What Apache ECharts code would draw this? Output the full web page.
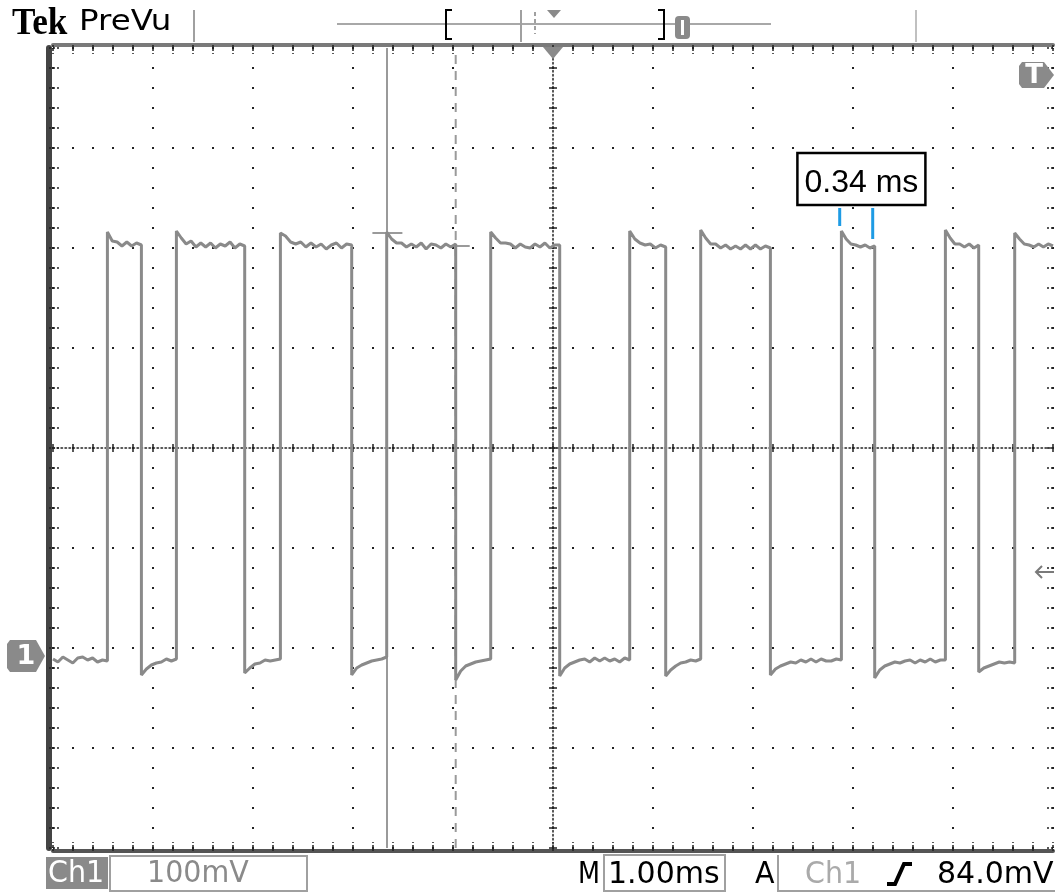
<!DOCTYPE html>
<html><head><meta charset="utf-8">
<script src="https://cdn.jsdelivr.net/npm/echarts@6/dist/echarts.min.js"></script>
<style>html,body{margin:0;padding:0;background:#fff}#c{width:1055px;height:892px}</style>
</head><body><div id="c"></div>
<script>
// ---- axes (screen graticule: 10 div x 1.00 ms, 8 div x 100 mV) ----
const X_MIN_MS = 0, X_MAX_MS = 10, X_DIV_MS = 1;
const Y_MIN_MV = -400, Y_MAX_MV = 400, Y_DIV_MV = 100;
const GROUND_MV = -208;          // Ch1 ground marker position (screen mV from centre)
const TRIGGER_LEVEL_MV = 84;     // relative to ground
const TRIGGER_TIME_MS = 5;

// ---- waveform: segment boundaries (ms) and sampled levels (mV re ground) ----
const EDGE_TIMES_MS = [0, 0.544, 0.884, 1.234, 1.917, 2.274, 2.987, 3.337, 4.027, 4.377, 5.067,
  5.767, 6.127, 6.477, 7.174, 7.884, 8.217, 8.924, 9.257, 9.617, 10];
const SEGMENT_VALUES_MV = [
  [-3, -6, -1, -4, -7, -2, -1, -4, -2, -6, -4, -5],
  [424, 415, 414, 410, 414, 410, 413, 411],
  [-19, -13, -9, -7, -6, -3, -5, -3],
  [425, 418, 412, 415, 409, 413, 409, 413, 408, 412, 410, 414, 408, 412, 410],
  [-17, -12, -8, -7, -4, -5, -4, -3],
  [423, 420, 414, 412, 414, 409, 413, 409, 412, 407, 411, 413, 408, 412, 411],
  [-19, -12, -9, -7, -5, -4, -3, -1],
  [424, 417, 413, 413, 409, 412, 409, 413, 407, 412, 411, 408, 412, 409, 412],
  [-24, -15, -10, -8, -6, -5, -4, -3],
  [424, 418, 413, 413, 412, 408, 412, 409, 408, 412, 409, 413, 408, 411, 411],
  [-20, -12, -8, -6, -4, -3, -6, -2, -5, -2, -5, -3, -6, -2, -4],
  [425, 417, 413, 411, 412, 408, 411, 409],
  [-20, -14, -10, -7, -6, -4, -5, -3],
  [426, 418, 412, 412, 408, 411, 407, 410, 407, 411, 407, 411, 407, 410, 408],
  [-19, -13, -10, -8, -6, -7, -4, -6, -3, -6, -3, -5, -5, -3, -4],
  [425, 417, 412, 411, 409, 411, 408, 410],
  [-22, -14, -10, -8, -6, -7, -5, -4, -7, -4, -6, -3, -6, -4, -4],
  [426, 418, 412, 412, 409, 412, 408, 411],
  [-16, -12, -10, -8, -6, -7, -6, -7],
  [423, 417, 412, 411, 409, 412, 409, 412, 410]
];

// ---- cursors ----
const CURSOR_SOLID_MS = 3.34;
const CURSOR_SOLID_TICK = [3.194, 3.494, 423];   // from, to, level (mV re ground)
const CURSOR_DASHED_MS = 4.027;
const CURSOR_DASHED_TICK = [4.027, 4.167, 410];

// ---- measurement annotation ----
const MEASURE_TICKS = [[7.867, 430, 448], [8.197, 417, 448]];  // time, from, to (mV re ground)
const MEASURE_TEXT = '0.34 ms';
const MEASURE_POS = [8.084, 477];

// ---- status texts ----
const HEADER_TEXTS = ['Tek', 'PreVu'];
const STATUS_TEXTS = ['Ch1', '100mV', 'M', '1.00ms', 'A', 'Ch1', '84.0mV'];

// build waveform
const trace = [];
SEGMENT_VALUES_MV.forEach((vals, i) => {
  const t0 = EDGE_TIMES_MS[i], t1 = EDGE_TIMES_MS[i + 1];
  vals.forEach((v, k) => {
    trace.push([t0 + (t1 - t0) * k / (vals.length - 1), GROUND_MV + v]);
  });
});

const DOT = '#222';
const tickStyle = { color: DOT, width: 1.5, type: [2, 2] };
function borderX(pos, offset, color, width, len) {
  return {
    type: 'value', min: X_MIN_MS, max: X_MAX_MS, interval: X_DIV_MS, position: pos, offset: offset,
    axisLine: { show: true, onZero: false, lineStyle: { color: color, width: width } },
    axisTick: { show: true, inside: true, length: len, lineStyle: tickStyle },
    minorTick: { show: true, splitNumber: 5, length: len, lineStyle: tickStyle },
    axisLabel: { show: false }, splitLine: { show: false }
  };
}
function borderY(pos, offset, color, width, len, showLine) {
  return {
    type: 'value', min: Y_MIN_MV, max: Y_MAX_MV, interval: Y_DIV_MV, position: pos, offset: offset,
    axisLine: { show: showLine, onZero: false, lineStyle: { color: color, width: width } },
    axisTick: { show: true, inside: true, length: len, lineStyle: tickStyle },
    minorTick: { show: true, splitNumber: 5, length: len, lineStyle: tickStyle },
    axisLabel: { show: false }, splitLine: { show: false }
  };
}
function centreX(inside, line) {
  return {
    type: 'value', min: X_MIN_MS, max: X_MAX_MS, interval: X_DIV_MS, position: 'bottom', offset: -400,
    axisLine: { show: line, onZero: false, lineStyle: { color: DOT, width: 1.5, type: [1.5, 2.5] } },
    axisTick: { show: true, inside: inside, length: 4, lineStyle: { color: DOT, width: 1.5 } },
    minorTick: { show: true, splitNumber: 5, length: 4, lineStyle: { color: DOT, width: 1.5 } },
    axisLabel: { show: false }, splitLine: { show: false }
  };
}
function centreY(inside, line) {
  return {
    type: 'value', min: Y_MIN_MV, max: Y_MAX_MV, interval: Y_DIV_MV, position: 'left', offset: -500,
    axisLine: { show: line, onZero: false, lineStyle: { color: DOT, width: 1.5, type: [1.5, 2.5] } },
    axisTick: { show: true, inside: inside, length: 4, lineStyle: { color: DOT, width: 1.5 } },
    minorTick: { show: true, splitNumber: 5, length: 4, lineStyle: { color: DOT, width: 1.5 } },
    axisLabel: { show: false }, splitLine: { show: false }
  };
}
const gridLineStyle = { color: DOT, width: 2, type: [2, 18], dashOffset: 1 };

const xAxes = [
  Object.assign(borderX('bottom', 3, '#555', 4, 9), { splitLine: { show: true, lineStyle: gridLineStyle } }),
  borderX('top', 3, '#7a7a7a', 4, 9),
  centreX(false, true),
  centreX(true, false)
];
const yAxes = [
  Object.assign(borderY('left', 4, '#444', 6, 11, true), { splitLine: { show: true, lineStyle: gridLineStyle } }),
  borderY('right', 0, '#555', 1, 7, false),
  centreY(false, true),
  centreY(true, false)
];

const lineBase = { type: 'line', xAxisIndex: 0, yAxisIndex: 0, symbol: 'none', animation: false, silent: true };
const series = [
  Object.assign({}, lineBase, { data: trace, z: 5, lineStyle: { color: '#8a8a8a', width: 3 } }),
  Object.assign({}, lineBase, { data: [[CURSOR_SOLID_MS, Y_MIN_MV], [CURSOR_SOLID_MS, Y_MAX_MV]], z: 4,
    lineStyle: { color: '#9a9a9a', width: 2 } }),
  Object.assign({}, lineBase, { data: [[CURSOR_SOLID_TICK[0], GROUND_MV + CURSOR_SOLID_TICK[2]], [CURSOR_SOLID_TICK[1], GROUND_MV + CURSOR_SOLID_TICK[2]]], z: 4,
    lineStyle: { color: '#9a9a9a', width: 2 } }),
  Object.assign({}, lineBase, { data: [[CURSOR_DASHED_MS, Y_MIN_MV], [CURSOR_DASHED_MS, Y_MAX_MV]], z: 4,
    lineStyle: { color: '#9a9a9a', width: 2, type: [9, 7] } }),
  Object.assign({}, lineBase, { data: [[CURSOR_DASHED_TICK[0], GROUND_MV + CURSOR_DASHED_TICK[2]], [CURSOR_DASHED_TICK[1], GROUND_MV + CURSOR_DASHED_TICK[2]]], z: 4,
    lineStyle: { color: '#9a9a9a', width: 2 } })
];
MEASURE_TICKS.forEach(m => {
  series.push(Object.assign({}, lineBase, { data: [[m[0], GROUND_MV + m[1]], [m[0], GROUND_MV + m[2]]], z: 6,
    lineStyle: { color: '#1e9be4', width: 3 } }));
});

const chart = echarts.init(document.getElementById('c'), null, { renderer: 'canvas' });
chart.setOption({
  backgroundColor: '#fff',
  animation: false,
  grid: { left: 53, top: 48, width: 1000, height: 800, containLabel: false, show: false },
  xAxis: xAxes, yAxis: yAxes, series: series
});

// ---- instrument chrome, anchored through the axes where it marks a value ----
const toPx = (t, v) => chart.convertToPixel({ xAxisIndex: 0, yAxisIndex: 0 }, [t, v]);
const gy = toPx(0, GROUND_MV)[1];
const ty = toPx(0, GROUND_MV + TRIGGER_LEVEL_MV)[1];
const tx = toPx(TRIGGER_TIME_MS, 0)[0];
const mp = toPx(MEASURE_POS[0], GROUND_MV + MEASURE_POS[1]);
const F = '"DejaVu Sans", sans-serif';
const G = '#8a8a8a';
const g = [];
function txt(x, y, s, font, fill, align, sx) {
  g.push({ type: 'text', x: x, y: y, scaleX: sx || 1, z: 100,
    style: { text: s, font: font, fill: fill, align: align || 'left', verticalAlign: 'middle' } });
}
function poly(pts, stroke, w, dash) {
  g.push({ type: 'polyline', z: 100, shape: { points: pts }, style: { stroke: stroke, lineWidth: w, fill: null, lineDash: dash || null } });
}
function rect(x, y, w, h, fill, stroke, lw) {
  g.push({ type: 'rect', z: 99, shape: { x: x, y: y, width: w, height: h },
    style: { fill: fill || null, stroke: stroke || null, lineWidth: lw || 2 } });
}
// measurement box
rect(mp[0] - 64, mp[1] - 26, 128, 52, '#fff', '#000', 2.5);
txt(mp[0], mp[1] + 4, MEASURE_TEXT, '32px "Liberation Sans", Arial, sans-serif', '#000', 'center');
// header
txt(12, 24, HEADER_TEXTS[0], 'bold 37px "Liberation Serif", serif', '#000', 'left', 0.95);
txt(79, 22, HEADER_TEXTS[1], '29px ' + F, '#000', 'left', 1.12);
poly([[194, 10], [194, 42]], '#a0a0a0', 2);
poly([[337, 24], [771, 24]], '#a8a8a8', 2);
poly([[452, 10], [446, 10], [446, 39], [452, 39]], '#000', 2);
poly([[521, 10], [521, 42]], '#a0a0a0', 2);
poly([[535, 12], [535, 34]], '#a0a0a0', 2, [4, 3]);
g.push({ type: 'polygon', z: 100, shape: { points: [[547, 10], [561, 10], [554, 18]] }, style: { fill: G } });
poly([[658, 10], [664, 10], [664, 39], [658, 39]], '#000', 2);
g.push({ type: 'rect', z: 100, shape: { x: 675, y: 16, width: 15, height: 23, r: 4 }, style: { fill: G } });
poly([[682.5, 20], [682.5, 35]], '#fff', 3);
poly([[916, 10], [916, 42]], '#c0c0c0', 2);
// trigger time marker
g.push({ type: 'polygon', z: 100, shape: { points: [[tx - 10, 47], [tx + 10, 47], [tx, 59]] }, style: { fill: G } });
// T marker right
g.push({ type: 'polygon', z: 100, shape: { points: [[1022, 62], [1044, 62], [1054, 75], [1044, 88], [1022, 88], [1019, 84], [1019, 66]] }, style: { fill: G } });
txt(1034, 76, 'T', 'bold 26px ' + F, '#fff', 'center');
// ground marker
g.push({ type: 'polygon', z: 100, shape: { points: [[10, gy - 16], [36, gy - 16], [45, gy], [36, gy + 16], [10, gy + 16], [7, gy + 12], [7, gy - 12]] }, style: { fill: G } });
txt(26, gy + 1, '1', 'bold 27px ' + F, '#fff', 'center');
// trigger level arrow
poly([[1054, ty], [1036, ty]], '#7a7a7a', 2);
poly([[1042, ty - 6], [1036, ty], [1042, ty + 6]], '#7a7a7a', 2);
// status bar
rect(46, 857, 62, 32, G);
txt(48, 874, STATUS_TEXTS[0], '30px ' + F, '#fff', 'left', 0.95);
rect(110, 856, 197, 35, null, '#a0a0a0');
txt(147, 874, STATUS_TEXTS[1], '30px ' + F, '#8a8a8a', 'left', 0.95);
txt(578, 875, STATUS_TEXTS[2], '30px ' + F, '#000', 'left', 0.85);
rect(604, 855, 121, 36, null, '#a0a0a0');
txt(608, 875, STATUS_TEXTS[3], '30px ' + F, '#000', 'left', 1.0);
txt(755, 875, STATUS_TEXTS[4], '30px ' + F, '#000', 'left', 0.95);
poly([[778, 855], [778, 891], [1056, 891]], '#a0a0a0', 2);
txt(805, 875, STATUS_TEXTS[5], '30px ' + F, '#aaaaaa', 'left', 0.95);
poly([[887, 884], [895, 884], [904, 864], [912, 864]], '#000', 4);
txt(937, 875, STATUS_TEXTS[6], '30px ' + F, '#000', 'left', 1.0);
chart.setOption({ graphic: { elements: g } });
</script></body></html>
